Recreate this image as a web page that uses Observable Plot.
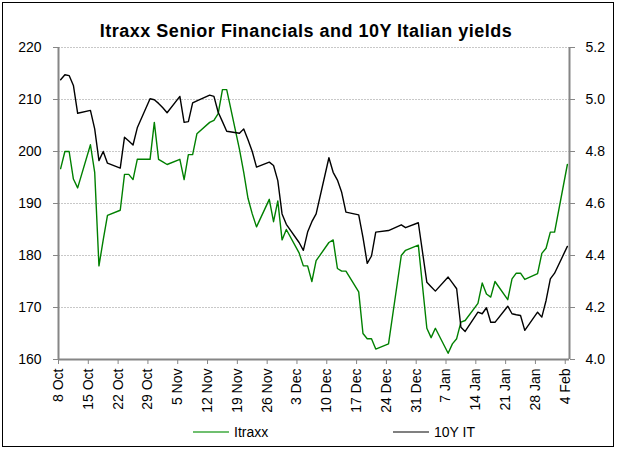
<!DOCTYPE html>
<html>
<head>
<meta charset="utf-8">
<script src="https://cdn.jsdelivr.net/npm/d3@7"></script>
<script src="https://cdn.jsdelivr.net/npm/@observablehq/plot@0.6"></script>
<style>
  html, body { margin: 0; padding: 0; background: #fff; }
  #wrap { position: relative; width: 617px; height: 450px; font-family: "Liberation Sans", Arial, sans-serif; }
  #frame { position: absolute; left: 2px; top: 2px; width: 610px; height: 443px; border: 1px solid #000; box-sizing: content-box; pointer-events: none; }
  #title { position: absolute; left: 0; width: 612px; top: 21px; text-align: center; font-weight: bold; font-size: 18px; letter-spacing: 0.5px; color: #000; }
  #chart { position: absolute; left: 0; top: 0; }
  #legend { position: absolute; top: 424px; left: 0; width: 617px; font-size: 14px; color: #000; }
  .item { position: absolute; display: flex; align-items: center; }
  .swatch { display: inline-block; width: 36px; height: 0; border-top: 2px solid; margin-right: 5px; }
</style>
</head>
<body>
<div id="wrap">
  <div id="chart"></div>
  <div id="title">Itraxx Senior Financials and 10Y Italian yields</div>
  <div id="legend"></div>
  <div id="frame"></div>
</div>
<script>
// ---- data ----
const dates = [
  "2012-10-08","2012-10-09","2012-10-10","2012-10-11","2012-10-12","2012-10-15","2012-10-16","2012-10-17","2012-10-18","2012-10-19",
  "2012-10-22","2012-10-23","2012-10-24","2012-10-25","2012-10-26","2012-10-29","2012-10-30","2012-10-31",
  "2012-11-01","2012-11-02","2012-11-05","2012-11-06","2012-11-07","2012-11-08","2012-11-09","2012-11-12","2012-11-13","2012-11-14",
  "2012-11-15","2012-11-16","2012-11-19","2012-11-20","2012-11-21","2012-11-22","2012-11-23","2012-11-26","2012-11-27","2012-11-28",
  "2012-11-29","2012-11-30",
  "2012-12-03","2012-12-04","2012-12-05","2012-12-06","2012-12-07","2012-12-10","2012-12-11","2012-12-12","2012-12-13","2012-12-14",
  "2012-12-17","2012-12-18","2012-12-19","2012-12-20","2012-12-21","2012-12-24","2012-12-27","2012-12-28","2012-12-31",
  "2013-01-02","2013-01-03","2013-01-04","2013-01-07","2013-01-08","2013-01-09","2013-01-10","2013-01-11","2013-01-14","2013-01-15",
  "2013-01-16","2013-01-17","2013-01-18","2013-01-21","2013-01-22","2013-01-23","2013-01-24","2013-01-25","2013-01-28","2013-01-29",
  "2013-01-30","2013-01-31",
  "2013-02-01","2013-02-04"
];
const itraxx = [
  196.7, 200, 200, 194.7, 193, 201.3, 196, 178, 183, 187.7,
  188.7, 195.6, 195.6, 194.6, 198.5, 198.5, 205.6, 198.5,
  198, 197.5, 198.5, 194.6, 199.4, 199.4, 203.4, 205.6, 206, 207.3,
  211.9, 211.9, 200.4, 196, 191, 188, 185.5, 190.8, 186.5, 190.5,
  183, 185,
  180.5, 178, 178, 175, 179, 182.5, 183, 177.5, 177, 177,
  173, 165, 164, 164, 162, 163, 180, 181, 182,
  166, 164.2, 166, 161.2, 163, 164, 167.2, 167.5, 170.8, 174.7,
  172.6, 172, 175, 171.5, 175.5, 176.6, 176.6, 175.4, 176.5, 180.4,
  181.4, 184.5,
  184.5, 197.5
];
const yieldIT = [
  5.076, 5.095, 5.092, 5.054, 4.947, 4.958, 4.887, 4.765, 4.80, 4.755,
  4.736, 4.855, 4.84, 4.825, 4.891, 5.003, 4.999, 4.985,
  4.968, 4.949, 5.012, 4.912, 4.915, 4.987, 4.995, 5.017, 5.012, 4.951,
  4.915, 4.878, 4.870, 4.887, 4.845, 4.80, 4.74, 4.759, 4.746, 4.688,
  4.56, 4.52,
  4.45, 4.42, 4.49, 4.53, 4.56, 4.776, 4.72, 4.69, 4.643, 4.567,
  4.556, 4.47, 4.37, 4.398, 4.49, 4.496, 4.518, 4.507, 4.526,
  4.297, 4.28, 4.263, 4.317, 4.295, 4.272, 4.124, 4.108, 4.182, 4.176,
  4.199, 4.143, 4.143, 4.205, 4.176, 4.172, 4.169, 4.112, 4.182, 4.163,
  4.227, 4.31,
  4.332, 4.435
];
const xTicks = ["2012-10-08","2012-10-15","2012-10-22","2012-10-29","2012-11-05","2012-11-12","2012-11-19","2012-11-26",
  "2012-12-03","2012-12-10","2012-12-17","2012-12-24","2012-12-31","2013-01-07","2013-01-14","2013-01-21","2013-01-28","2013-02-04"];
const leftTicks = [160, 170, 180, 190, 200, 210, 220];
const rightTicks = [4.0, 4.2, 4.4, 4.6, 4.8, 5.0, 5.2];
const seriesNames = ["Itraxx", "10Y IT"];
const seriesColors = ["#008000", "#000000"];

// ---- build ----
// Excel date axis: points plotted in the middle of each day slot
const rows = dates.map((d, i) => ({date: new Date(d + "T12:00:00Z"), itraxx: itraxx[i], yld: yieldIT[i]}));
const L0 = 160, L1 = 220, R0 = 4.0, R1 = 5.2;
const toLeft = v => L0 + (v - R0) * (L1 - L0) / (R1 - R0);
const toRight = v => R0 + (v - L0) * (R1 - R0) / (L1 - L0);
const xMin = new Date("2012-10-08T00:00:00Z"), xMax = new Date("2013-02-05T00:00:00Z");
const axisGray = "#868686";

const chart = Plot.plot({
  width: 617,
  height: 450,
  marginLeft: 58,
  marginRight: 48,
  marginTop: 47,
  marginBottom: 91,
  style: {fontFamily: "'Liberation Sans', Arial, sans-serif", color: "#000", background: "transparent"},
  x: {type: "utc", domain: [xMin, xMax]},
  y: {domain: [L0, L1]},
  marks: [
    Plot.gridY(leftTicks.slice(1), {stroke: "#c8c8c8", strokeOpacity: 1, strokeDasharray: "2,1"}),
    Plot.lineY(rows, {x: "date", y: "itraxx", stroke: seriesColors[0], strokeWidth: 1.4}),
    Plot.lineY(rows, {x: "date", y: d => toLeft(d.yld), stroke: seriesColors[1], strokeWidth: 1.4}),
    Plot.ruleX([xMin], {stroke: axisGray, strokeWidth: 2}),
    Plot.ruleX([xMax], {stroke: axisGray, strokeWidth: 2}),
    Plot.ruleY([L0], {stroke: axisGray, strokeWidth: 2}),
    Plot.axisY({anchor: "left", ticks: leftTicks, tickSize: 5, tickPadding: 12, stroke: axisGray, fontSize: 14, label: null}),
    Plot.axisY({anchor: "right", ticks: rightTicks.map(toLeft), tickFormat: d => toRight(d).toFixed(1), tickSize: 5, tickPadding: 11, stroke: axisGray, fontSize: 14, label: null}),
    Plot.axisX({ticks: xTicks.map(d => new Date(d + "T00:00:00Z")), tickFormat: d3.utcFormat("%-d %b"), tickRotate: -90, tickSize: 5, tickPadding: 4, stroke: axisGray, fontSize: 14, label: null})
  ]
});
document.getElementById("chart").appendChild(chart);

// legend
const legend = document.getElementById("legend");
const legendX = [193, 393];
seriesNames.forEach((name, i) => {
  const item = document.createElement("div");
  item.className = "item";
  item.style.left = legendX[i] + "px";
  const sw = document.createElement("span");
  sw.className = "swatch";
  sw.style.borderColor = i === 0 ? "#6fbf6f" : "#808080";
  item.appendChild(sw);
  const t = document.createElement("span");
  t.textContent = name;
  item.appendChild(t);
  legend.appendChild(item);
});
</script>
</body>
</html>
